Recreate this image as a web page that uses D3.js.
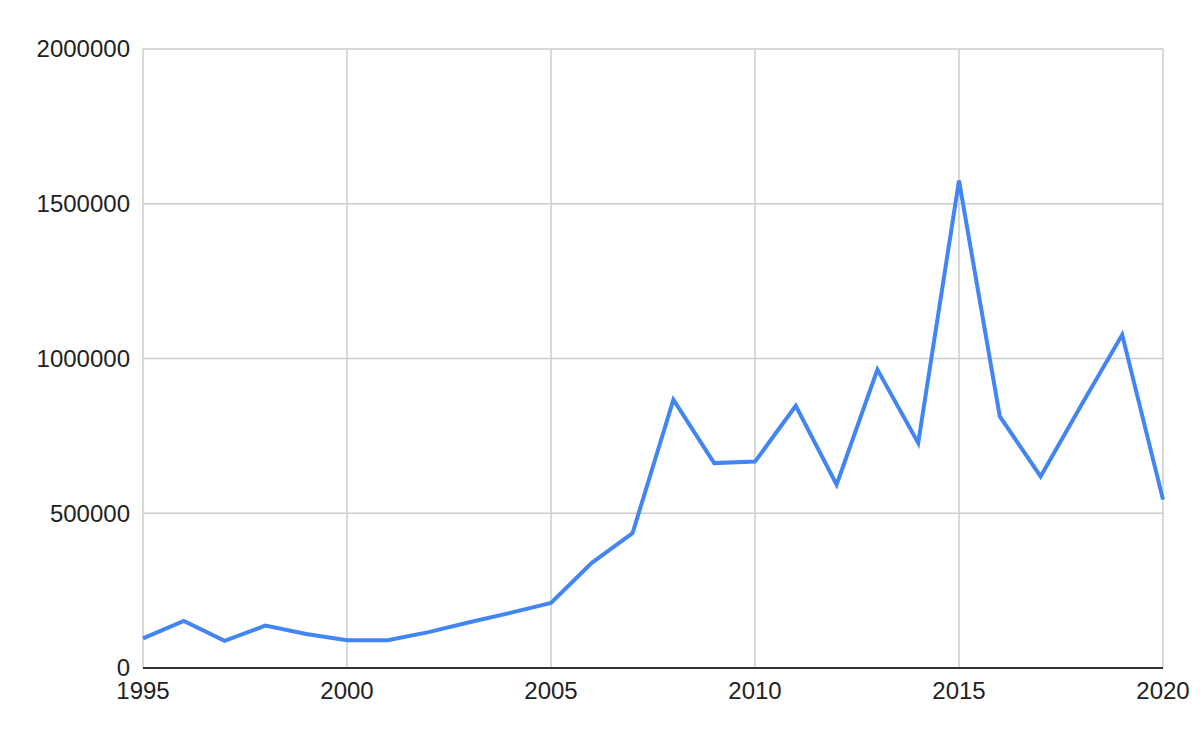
<!DOCTYPE html>
<html>
<head>
<meta charset="utf-8">
<script src="https://cdn.jsdelivr.net/npm/d3@7"></script>
<style>
  body { margin: 0; background: #fff; }
  text { font-family: "Liberation Sans", Arial, sans-serif; }
</style>
</head>
<body>
<svg></svg>
<script>
// chart size
var width = 1200;
var height = 742;
var svg = d3.select("svg").attr("width", width).attr("height", height);

// data
var years = [1995, 1996, 1997, 1998, 1999, 2000, 2001, 2002, 2003, 2004,
             2005, 2006, 2007, 2008, 2009, 2010, 2011, 2012, 2013, 2014,
             2015, 2016, 2017, 2018, 2019, 2020];
var values = [96000, 152000, 88000, 137000, 110000, 90000, 90000, 116000, 148000, 178000,
              210000, 340000, 436000, 867000, 662000, 667000, 847000, 592000, 964000, 727000,
              1575000, 813000, 619000, 850000, 1077000, 544000];
var xTicks = [1995, 2000, 2005, 2010, 2015, 2020];
var yTicks = [0, 500000, 1000000, 1500000, 2000000];

var margin = { left: 143, right: 37, top: 49, bottom: 74 };

var x = d3.scaleLinear()
    .domain([1995, 2020])
    .range([margin.left, width - margin.right]);

var y = d3.scaleLinear()
    .domain([0, 2000000])
    .range([height - margin.bottom, margin.top]);

// grid
svg.append("g")
    .selectAll("line")
    .data(yTicks)
    .enter().append("line")
    .attr("x1", x(1995)).attr("x2", x(2020))
    .attr("y1", d => y(d)).attr("y2", d => y(d))
    .attr("stroke", "#cccccc")
    .attr("stroke-width", 1.5);

svg.append("g")
    .selectAll("line")
    .data(xTicks)
    .enter().append("line")
    .attr("x1", d => x(d)).attr("x2", d => x(d))
    .attr("y1", y(0)).attr("y2", y(2000000))
    .attr("stroke", "#cccccc")
    .attr("stroke-width", 1.5);

// base line
svg.append("line")
    .attr("x1", x(1995)).attr("x2", x(2020))
    .attr("y1", y(0)).attr("y2", y(0))
    .attr("stroke", "#333333")
    .attr("stroke-width", 2);

// y labels
svg.append("g")
    .selectAll("text")
    .data(yTicks)
    .enter().append("text")
    .attr("x", margin.left - 13)
    .attr("y", d => y(d))
    .attr("dy", "0.35em")
    .attr("text-anchor", "end")
    .attr("font-size", "24px")
    .attr("fill", "#222")
    .text(d => d);

// x labels
svg.append("g")
    .selectAll("text")
    .data(xTicks)
    .enter().append("text")
    .attr("x", d => x(d))
    .attr("y", y(0) + 23)
    .attr("dy", "0.35em")
    .attr("text-anchor", "middle")
    .attr("font-size", "24px")
    .attr("fill", "#222")
    .text(d => d);

// the line
var line = d3.line()
    .x((d, i) => x(years[i]))
    .y(d => y(d));

svg.append("path")
    .datum(values)
    .attr("d", line)
    .attr("fill", "none")
    .attr("stroke", "#4285f4")
    .attr("stroke-width", 4)
    .attr("stroke-linejoin", "miter");
</script>
</body>
</html>
